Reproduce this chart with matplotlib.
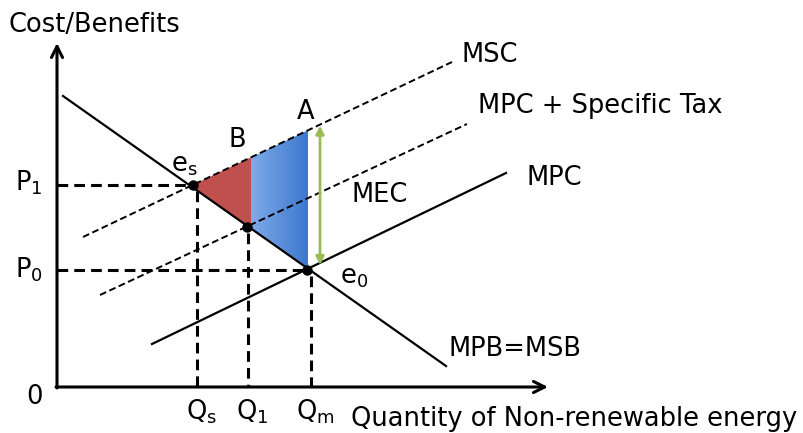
import numpy as np
import matplotlib.pyplot as plt
from matplotlib.colors import LinearSegmentedColormap
from matplotlib.patches import Polygon

plt.rcParams['font.family'] = 'DejaVu Sans'

# curve end points (quantity, price) in diagram units
demand_q = [6, 389]
demand_p = [291, 21]
mpc_q = [95, 449]
mpc_p = [43, 214]
tax_q = [43, 410]
tax_p = [92, 263]
msc_q = [26, 395]
msc_p = [150, 325]

# key quantities and prices
q_s, q_1, q_m = 136, 190, 250
q_b, q_a = 194, 251          # red/blue split and right edge of blue area
p_1, p_0 = 202, 117
q_drop = [140, 191, 254]      # where dashed drops hit the x axis
q_labels = ['Q$_\\mathrm{s}$', 'Q$_1$', 'Q$_\\mathrm{m}$']
mec_q = 263

def demand(q):
    return np.interp(q, demand_q, demand_p)

def msc(q):
    return np.interp(q, msc_q, msc_p)

def tax(q):
    return np.interp(q, tax_q, tax_p)

fig = plt.figure(figsize=(8.04, 4.33), dpi=100)
ax = fig.add_axes([0, 0, 1, 1])
ax.axis('off')

# shaded areas between MSC and demand
qq = np.array([q_s, q_b])
red = Polygon(list(zip(qq, msc(qq))) + list(zip(qq[::-1], demand(qq[::-1]))),
              closed=True, facecolor='#c0504d', edgecolor='none', zorder=1)
ax.add_patch(red)
qq = np.array([q_b, q_a])
blue = Polygon(list(zip(qq, msc(qq))) + list(zip(qq[::-1], demand(qq[::-1]))),
               closed=True, facecolor='none', edgecolor='none', zorder=1)
ax.add_patch(blue)
cmap = LinearSegmentedColormap.from_list('bl', ['#7eaae8', '#3d78cf'])
grad = ax.imshow(np.linspace(0, 1, 100).reshape(1, -1), cmap=cmap, aspect='auto',
                 extent=(q_b, q_a, demand(q_a), msc(q_a)), zorder=1)
grad.set_clip_path(blue)
ax.set_xlim(-57, 747)
ax.set_ylim(-46, 387)

# curves
ax.plot(demand_q, demand_p, color='black', lw=1.6, zorder=3)
ax.plot(mpc_q, mpc_p, color='black', lw=1.6, zorder=3)
ax.plot(tax_q, tax_p, color='black', lw=1.4, ls=(0, (3.5, 1.8)), zorder=3)
ax.plot(msc_q, msc_p, color='black', lw=1.4, ls=(0, (3.5, 1.8)), zorder=3)

# dashed guides
thick = (0, (3.5, 2))
ax.plot([0, q_s], [p_1, p_1], color='black', lw=2.2, ls=thick, zorder=2)
ax.plot([0, q_m], [p_0, p_0], color='black', lw=2.2, ls=thick, zorder=2)
pts_p = [p_1, tax(q_1), p_0]
for pp, qd in zip(pts_p, q_drop):
    ax.plot([qd, qd], [pp - 6, 0], color='black', lw=2.2, ls=thick, zorder=2)
ax.plot([q_s, q_1, q_m], pts_p, 'o', color='black', ms=6.5, zorder=4)

# MEC arrow
ax.annotate('', xy=(mec_q, msc(mec_q) - 1), xytext=(mec_q, p_0 + 5),
            arrowprops=dict(arrowstyle='<|-|>', color='#9bbb59', lw=2,
                            mutation_scale=12, shrinkA=0, shrinkB=0), zorder=3)

# axes
ax.annotate('', xy=(0, 344), xytext=(0, -1),
            arrowprops=dict(arrowstyle='->', color='black', lw=2.2,
                            mutation_scale=20, shrinkA=0, shrinkB=0))
ax.annotate('', xy=(491, 0), xytext=(-1, 0),
            arrowprops=dict(arrowstyle='->', color='black', lw=2.2,
                            mutation_scale=20, shrinkA=0, shrinkB=0))

fs = 18.5
ax.text(-48, 362, 'Cost/Benefits', fontsize=fs, va='center')
ax.text(405, 332, 'MSC', fontsize=fs, va='center')
ax.text(421, 281, 'MPC + Specific Tax', fontsize=fs, va='center')
ax.text(470, 209, 'MPC', fontsize=fs, va='center')
ax.text(295, 192, 'MEC', fontsize=fs, va='center')
ax.text(392, 38, 'MPB=MSB', fontsize=fs, va='center')
ax.text(249, 275, 'A', fontsize=fs, ha='center', va='center')
ax.text(180, 247, 'B', fontsize=fs, ha='center', va='center')
ax.text(114, 222, 'e$_\\mathrm{s}$', fontsize=fs, va='center')
ax.text(283, 110, 'e$_0$', fontsize=fs, va='center')
ax.text(-42, 204, 'P$_1$', fontsize=fs, va='center')
ax.text(-42, 117, 'P$_0$', fontsize=fs, va='center')
ax.text(-22, -10, '0', fontsize=fs, ha='center', va='center')
for qd, lab in zip(q_drop, q_labels):
    ax.text(qd + 4, -25, lab, fontsize=fs, ha='center', va='center')
ax.text(294, -32, 'Quantity of Non-renewable energy', fontsize=fs, va='center')

fig.savefig('out.png', dpi=100)
